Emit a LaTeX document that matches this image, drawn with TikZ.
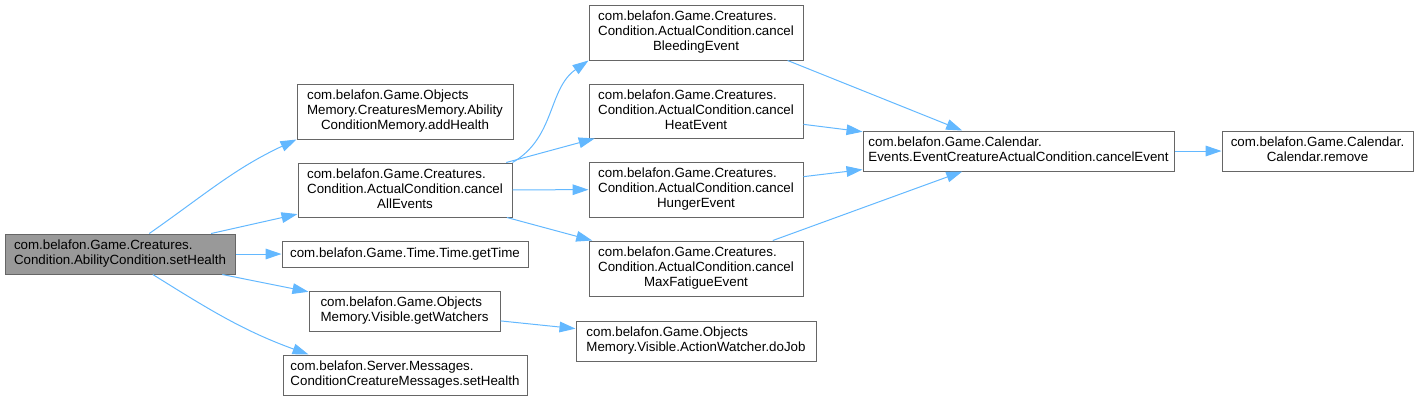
\documentclass[tikz,border=0pt]{standalone}
\usepackage{fontspec}
\setmainfont{Liberation Sans}
\usetikzlibrary{arrows.meta}
\usepackage{xcolor}
\definecolor{edgeblue}{HTML}{63B8FF}
\definecolor{boxgray}{HTML}{666666}
\definecolor{curgray}{HTML}{999999}
\newcommand{\fnlabel}[2]{\begin{tabular}{@{}l@{}}#1\\\multicolumn{1}{@{}c@{}}{#2}\end{tabular}}

\begin{document}
\begin{tikzpicture}[x=0.75pt, y=-0.75pt,
  fnbox/.style 2 args={draw=boxgray, line width=0.75pt, fill=white, inner sep=0pt,
    minimum width=#1*0.75pt, minimum height=#2*0.75pt, font=\fontsize{10}{11.25}\selectfont},
  call/.style={draw=edgeblue, line width=0.75pt, -{Triangle[length=12pt,width=8pt,fill=edgeblue]}}]
  \useasboundingbox (0,0) rectangle (1419,401);
  \node[fnbox={230}{40}, fill=curgray] (sethealth) at (120,254) {\fnlabel{com.belafon.Game.Creatures.}{Condition.AbilityCondition.setHealth}};
  \node[fnbox={216}{55}] (addhealth) at (405,111.5) {\fnlabel{com.belafon.Game.Objects\\Memory.CreaturesMemory.Ability}{ConditionMemory.addHealth}};
  \node[fnbox={214}{54}] (cancelall) at (405,190) {\fnlabel{com.belafon.Game.Creatures.\\Condition.ActualCondition.cancel}{AllEvents}};
  \node[fnbox={246}{26}] (gettime) at (405,254) {com.belafon.Game.Time.Time.getTime};
  \node[fnbox={191}{40}] (getwatchers) at (404.5,311) {\fnlabel{com.belafon.Game.Objects}{Memory.Visible.getWatchers}};
  \node[fnbox={244}{40}] (msghealth) at (405,375) {\fnlabel{com.belafon.Server.Messages.}{ConditionCreatureMessages.setHealth}};
  \node[fnbox={214}{55}] (bleeding) at (696,32.5) {\fnlabel{com.belafon.Game.Creatures.\\Condition.ActualCondition.cancel}{BleedingEvent}};
  \node[fnbox={214}{54}] (heat) at (696,111) {\fnlabel{com.belafon.Game.Creatures.\\Condition.ActualCondition.cancel}{HeatEvent}};
  \node[fnbox={214}{55}] (hunger) at (696,189.5) {\fnlabel{com.belafon.Game.Creatures.\\Condition.ActualCondition.cancel}{HungerEvent}};
  \node[fnbox={214}{55}] (maxfatigue) at (696,268.5) {\fnlabel{com.belafon.Game.Creatures.\\Condition.ActualCondition.cancel}{MaxFatigueEvent}};
  \node[fnbox={240}{40}] (dojob) at (696,341) {\fnlabel{com.belafon.Game.Objects}{Memory.Visible.ActionWatcher.doJob}};
  \node[fnbox={311}{40}] (cancelevent) at (1018.5,151) {\fnlabel{com.belafon.Game.Calendar.}{Events.EventCreatureActualCondition.cancelEvent}};
  \node[fnbox={191}{40}] (remove) at (1317.5,151) {\fnlabel{com.belafon.Game.Calendar.}{Calendar.remove}};

  \draw[call] (sethealth) to[out=35, in=-155] (addhealth.south west);
  \draw[call] (sethealth) -- (cancelall);
  \draw[call] (sethealth) -- (gettime);
  \draw[call] (sethealth) -- (getwatchers);
  \draw[call] (sethealth) to[out=-32, in=160] (msghealth.168.7);
  \draw[call] (cancelall.north east) to[out=30, in=-145] (bleeding.south west);
  \draw[call] (cancelall) -- (heat);
  \draw[call] (cancelall) -- (hunger);
  \draw[call] (cancelall) -- (maxfatigue);
  \draw[call] (getwatchers) -- (dojob);
  \draw[call] (bleeding.-17.2) -- (cancelevent.160.2);
  \draw[call] (heat) -- (cancelevent);
  \draw[call] (hunger) -- (cancelevent);
  \draw[call] (maxfatigue) -- (cancelevent);
  \draw[call] (cancelevent) -- (remove);
\end{tikzpicture}
\end{document}
